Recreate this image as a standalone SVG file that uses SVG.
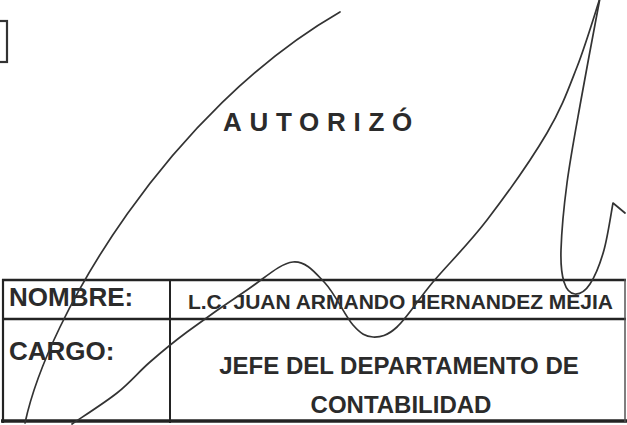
<svg xmlns="http://www.w3.org/2000/svg" width="627" height="425" viewBox="0 0 627 425">
<style>
.t{font-family:"Liberation Sans",Arial,sans-serif;font-weight:bold;fill:#2b2b2b}
.ln{stroke:#232323;fill:none}
.sig{stroke:#333;stroke-width:1.7;fill:none;stroke-linecap:round;stroke-linejoin:round}
</style>
<rect width="627" height="425" fill="#fff"/>
<g id="bracket">
<rect x="-5" y="21" width="12" height="41" fill="none" stroke="#333" stroke-width="2.2"/>
</g>
<g id="title">
<text class="t" x="223" y="131" font-size="26" letter-spacing="7.7">AUTORIZÓ</text>
</g>
<g id="table">
<line class="ln" x1="2" y1="280" x2="626" y2="280" stroke-width="2.6"/>
<line class="ln" x1="2" y1="319" x2="626" y2="319" stroke-width="2.6"/>
<line class="ln" x1="1" y1="421" x2="627" y2="421" stroke-width="3.6"/>
<line class="ln" x1="3" y1="279" x2="3" y2="423" stroke-width="2.2"/>
<line class="ln" x1="170" y1="279" x2="170" y2="423" stroke-width="2"/>
<line x1="625" y1="279" x2="625" y2="423" stroke="#555" stroke-width="1.5"/>
<text class="t" x="9" y="306" font-size="26">NOMBRE:</text>
<text class="t" x="9" y="360" font-size="26">CARGO:</text>
<text class="t" x="400.5" y="309" font-size="21" text-anchor="middle">L.C. JUAN ARMANDO HERNANDEZ MEJIA</text>
<text class="t" x="399" y="374" font-size="24" text-anchor="middle">JEFE DEL DEPARTAMENTO DE</text>
<text class="t" x="401" y="413" font-size="24" text-anchor="middle">CONTABILIDAD</text>
</g>
<g id="signature">
<path class="sig" d="M25,423 C48,315 170,110 340,12"/>
<path class="sig" d="M72,424 C79.5,418.8 104,403.3 117,393 C130,382.7 138.3,372.2 150,362 C161.7,351.8 170.8,344 187,332 C203.2,320 229.3,301.7 247,290 C264.7,278.3 280,263.2 293,262 C306,260.8 315,272.5 325,283 C335,293.5 345,316 353,325 C361,334 365.7,336.7 373,337 C380.3,337.3 387,336.2 397,327 C407,317.8 418,299.8 433,282 C448,264.2 468,244.8 487,220 C506,195.2 532,158.5 547,133 C562,107.5 568.2,89.5 577,67 C585.8,44.5 596.2,9.5 600,-2"/>
<path class="sig" d="M600,-2 C596.8,15 586.5,69.2 581,100 C575.5,130.8 570.3,158 567,183 C563.7,208 561.5,233.5 561,250 C560.5,266.5 561.7,274.7 564,282 C566.3,289.3 570.7,293.7 575,294 C579.3,294.3 585.2,291.3 590,284 C594.8,276.7 600.2,263.5 604,250 C607.8,236.5 611.5,210.8 613,203 L625,213"/>
</g>
</svg>
